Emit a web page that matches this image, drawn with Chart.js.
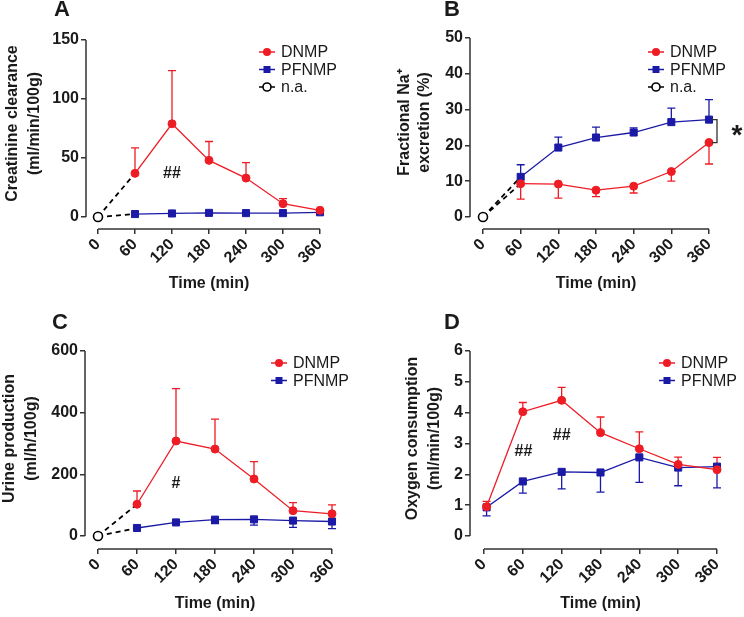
<!DOCTYPE html>
<html>
<head>
<meta charset="utf-8">
<script src="https://cdn.jsdelivr.net/npm/chart.js@4/dist/chart.umd.min.js"></script>
<style>
  html, body { margin: 0; padding: 0; background: #fff; }
  #wrap { position: relative; width: 744px; height: 617px; }
  canvas { position: absolute; }
</style>
</head>
<body>
<div id="wrap">
  <canvas id="chartA" width="372" height="308" style="left:0;top:0"></canvas>
  <canvas id="chartB" width="372" height="308" style="left:372px;top:0"></canvas>
  <canvas id="chartC" width="372" height="309" style="left:0;top:308px"></canvas>
  <canvas id="chartD" width="372" height="309" style="left:372px;top:308px"></canvas>
</div>
<script>
// ---- data ----
const timeTicks = [0, 60, 120, 180, 240, 300, 360];
const times = [60, 120, 180, 240, 300, 360];
const timesO2 = [4, 60, 120, 180, 240, 300, 360];

// A: creatinine clearance
const creatTicks = [0, 50, 100, 150];
const creatDnmp = [37, 79, 48, 33, 11.3, 5.7];
const creatDnmpErr = [21.5, 45, 16, 13, 4.3, 0];
const creatPfnmp = [2.5, 3, 3.5, 3.3, 3.3, 4];
const creatPfnmpErr = [0, 0, 0, 0, 0, 0];

// B: fractional Na+ excretion
const naTicks = [0, 10, 20, 30, 40, 50];
const naDnmp = [9.3, 9.2, 7.5, 8.6, 12.7, 20.8];
const naDnmpErr = [4.3, 3.9, 1.8, 1.9, 2.7, 6.0];
const naPfnmp = [11.2, 19.4, 22.2, 23.6, 26.5, 27.2];
const naPfnmpErr = [3.4, 2.9, 2.9, 1.3, 3.9, 5.6];

// C: urine production
const urineTicks = [0, 200, 400, 600];
const urineDnmp = [103, 308, 282, 185, 82, 72];
const urineDnmpErr = [43, 170, 97, 56, 26, 29];
const urinePfnmp = [26, 44, 53, 54, 50, 47];
const urinePfnmpErr = [0, 0, 13, 19, 22, 23];

// D: oxygen consumption
const o2Ticks = [0, 1, 2, 3, 4, 5, 6];
const o2Dnmp = [0.95, 4.03, 4.4, 3.35, 2.83, 2.32, 2.15];
const o2DnmpErr = [0.17, 0.30, 0.42, 0.51, 0.55, 0.24, 0.40];
const o2Pfnmp = [0.93, 1.77, 2.08, 2.06, 2.55, 2.22, 2.25];
const o2PfnmpErr = [0.28, 0.38, 0.55, 0.64, 0.81, 0.59, 0.69];

// ---- styles ----
const FONT = 'Arial, "Liberation Sans", Helvetica, sans-serif';
const RED = '#ee1c24';
const BLUE = '#1a1aa6';
const INK = '#1a1a1a';
Chart.defaults.font.family = FONT;

function series(label, xs, ys, errs, dir, color, style) {
  return {
    label,
    data: xs.map((x, i) => ({ x, y: ys[i] })),
    errs, errDir: dir,
    borderColor: color, backgroundColor: color,
    borderWidth: 1.3,
    pointStyle: style,
    pointRadius: style === 'rect' ? 5 : 4,
    pointBorderWidth: 1,
    clip: false
  };
}

// dashed "n.a." links from t=0 to the first measured point
function naLinks(targets) {
  const sets = [{
    label: 'n.a.',
    data: [{ x: 0, y: 0 }],
    showLine: false,
    pointRadius: 4.5,
    pointBackgroundColor: '#fff',
    pointBorderColor: '#000',
    pointBorderWidth: 1.6,
    clip: false
  }];
  targets.forEach(v => sets.push({
    label: 'link',
    data: [{ x: 0, y: 0 }, { x: 60, y: v }],
    borderColor: '#000',
    borderWidth: 1.8,
    borderDash: [5, 4],
    pointRadius: 0,
    clip: false
  }));
  return sets;
}

const errorBars = {
  id: 'errorBars',
  beforeDatasetsDraw(chart) {
    const { ctx, scales: { x, y } } = chart;
    chart.data.datasets.forEach(ds => {
      if (!ds.errs) return;
      ctx.save();
      ctx.strokeStyle = ds.borderColor;
      ctx.lineWidth = 1.3;
      ds.data.forEach((p, i) => {
        const e = ds.errs[i];
        if (!e) return;
        const px = x.getPixelForValue(p.x);
        const py = y.getPixelForValue(p.y);
        const dirs = ds.errDir === 'both' ? [1, -1] : (ds.errDir === 'down' ? [-1] : [1]);
        dirs.forEach(d => {
          const ey = y.getPixelForValue(p.y + d * e);
          ctx.beginPath();
          ctx.moveTo(px, py); ctx.lineTo(px, ey);
          ctx.moveTo(px - 4, ey); ctx.lineTo(px + 4, ey);
          ctx.stroke();
        });
      });
      ctx.restore();
    });
  }
};

function chrome(cfg) {
  return {
    id: 'chrome',
    afterDraw(chart) {
      const { ctx, chartArea: area, scales: { x, y } } = chart;
      const yMax = cfg.yTicks[cfg.yTicks.length - 1];
      const y0 = y.getPixelForValue(0), yTop = y.getPixelForValue(yMax);
      const x0 = x.getPixelForValue(0), xEnd = x.getPixelForValue(360);
      ctx.save();
      // offset axes
      ctx.strokeStyle = '#333';
      ctx.lineWidth = 1.5;
      ctx.beginPath();
      ctx.moveTo(area.left, y0); ctx.lineTo(area.left, yTop);
      ctx.moveTo(x0, area.bottom); ctx.lineTo(xEnd, area.bottom);
      ctx.stroke();

      ctx.fillStyle = INK;
      ctx.textAlign = 'center';
      ctx.textBaseline = 'middle';
      // y title
      ctx.font = 'bold 16px ' + FONT;
      const midY = (y0 + yTop) / 2 - 5;
      cfg.yTitle.forEach((line, i) => {
        ctx.save();
        ctx.translate(cfg.yTitleX[i], midY);
        ctx.rotate(-Math.PI / 2);
        ctx.fillText(line, 0, 0);
        ctx.restore();
      });
      // x title
      ctx.fillText('Time (min)', (x0 + xEnd) / 2, area.bottom + 55);
      // panel letter
      ctx.font = 'bold 22px ' + FONT;
      ctx.fillText(cfg.letter, cfg.letterPos[0], cfg.letterPos[1]);

      // legend
      ctx.font = '16px ' + FONT;
      ctx.textAlign = 'left';
      cfg.legend.forEach((item, i) => {
        const ly = cfg.legendPos[1] + i * 17.5;
        const lx = cfg.legendPos[0];
        ctx.strokeStyle = item.color;
        ctx.lineWidth = 1.5;
        ctx.beginPath(); ctx.moveTo(lx - 8, ly); ctx.lineTo(lx + 8, ly); ctx.stroke();
        if (item.style === 'rect') {
          ctx.fillStyle = item.color;
          ctx.fillRect(lx - 3.5, ly - 3.5, 7, 7);
        } else if (item.style === 'open') {
          ctx.fillStyle = '#fff';
          ctx.lineWidth = 1.6;
          ctx.beginPath(); ctx.arc(lx, ly, 4, 0, Math.PI * 2); ctx.fill(); ctx.stroke();
        } else {
          ctx.fillStyle = item.color;
          ctx.beginPath(); ctx.arc(lx, ly, 4, 0, Math.PI * 2); ctx.fill();
        }
        ctx.fillStyle = INK;
        ctx.fillText(item.label, lx + 14, ly + 1);
      });

      // significance marks
      ctx.font = 'bold 16px ' + FONT;
      ctx.textAlign = 'center';
      (cfg.marks || []).forEach(m => {
        ctx.fillText(m.text, x.getPixelForValue(m.x), y.getPixelForValue(m.y));
      });
      if (cfg.bracket) {
        const b = cfg.bracket;
        const bx = x.getPixelForValue(360) + 8;
        const t = y.getPixelForValue(b.top), btm = y.getPixelForValue(b.bottom);
        ctx.strokeStyle = '#333';
        ctx.lineWidth = 1.3;
        ctx.beginPath();
        ctx.moveTo(bx - 5, t); ctx.lineTo(bx, t); ctx.lineTo(bx, btm); ctx.lineTo(bx - 5, btm);
        ctx.stroke();
        ctx.font = 'bold 28px ' + FONT;
        ctx.fillText('*', bx + 20, (t + btm) / 2 + 5);
      }
      ctx.restore();
    }
  };
}

function panel(cfg) {
  const a = cfg.area, W = cfg.width, H = cfg.height;
  const yMax = cfg.yTicks[cfg.yTicks.length - 1];
  const xMin = -cfg.gapX * 360 / (a.right - a.left - cfg.gapX);
  const yMin = -cfg.gapY * yMax / (a.bottom - a.top - cfg.gapY);
  const xH = 60;
  const tickGrid = { drawOnChartArea: false, drawTicks: true, tickLength: 5, color: '#333', lineWidth: 1.5 };
  const tickFont = { family: FONT, size: 16, weight: 'bold' };
  return new Chart(document.getElementById(cfg.id), {
    type: 'line',
    data: { datasets: cfg.datasets },
    options: {
      responsive: false,
      animation: false,
      layout: {
        autoPadding: false,
        padding: { left: 0, top: a.top, right: W - a.right, bottom: H - a.bottom - xH }
      },
      plugins: { legend: { display: false }, tooltip: { enabled: false } },
      scales: {
        x: {
          type: 'linear', min: xMin, max: 360,
          afterBuildTicks: s => { s.ticks = timeTicks.map(v => ({ value: v })); },
          afterFit: s => { s.height = xH; },
          ticks: { autoSkip: false, minRotation: 45, maxRotation: 45, font: tickFont, color: INK, padding: 1 },
          grid: tickGrid,
          border: { display: false }
        },
        y: {
          type: 'linear', min: yMin, max: yMax,
          afterBuildTicks: s => { s.ticks = cfg.yTicks.map(v => ({ value: v })); },
          afterFit: s => { s.width = a.left; },
          ticks: { font: tickFont, color: INK, padding: 2 },
          grid: tickGrid,
          border: { display: false }
        }
      }
    },
    plugins: [errorBars, chrome(cfg)]
  });
}

const legend3 = [
  { label: 'DNMP', color: RED, style: 'circle' },
  { label: 'PFNMP', color: BLUE, style: 'rect' },
  { label: 'n.a.', color: '#000', style: 'open' }
];
const legend2 = legend3.slice(0, 2);

panel({
  id: 'chartA', width: 372, height: 308,
  area: { left: 86, top: 40, right: 320, bottom: 229 }, gapX: 12, gapY: 12,
  yTicks: creatTicks,
  yTitle: ['Creatinine clearance', '(ml/min/100g)'], yTitleX: [13, 35],
  letter: 'A', letterPos: [62, 10],
  legend: legend3, legendPos: [267, 52],
  marks: [{ text: '##', x: 120, y: 37 }],
  datasets: [
    series('DNMP', times, creatDnmp, creatDnmpErr, 'up', RED, 'circle'),
    series('PFNMP', times, creatPfnmp, creatPfnmpErr, 'up', BLUE, 'rect'),
    ...naLinks([creatDnmp[0], creatPfnmp[0]])
  ]
});

panel({
  id: 'chartB', width: 372, height: 308,
  area: { left: 98, top: 38, right: 337, bottom: 229 }, gapX: 13, gapY: 12,
  yTicks: naTicks,
  yTitle: ['Fractional Na\u207A', 'excretion (%)'], yTitleX: [33, 53],
  letter: 'B', letterPos: [80, 10],
  legend: legend3, legendPos: [284, 52],
  bracket: { top: naPfnmp[5], bottom: naDnmp[5] },
  datasets: [
    series('DNMP', times, naDnmp, naDnmpErr, 'down', RED, 'circle'),
    series('PFNMP', times, naPfnmp, naPfnmpErr, 'up', BLUE, 'rect'),
    ...naLinks([naDnmp[0], naPfnmp[0]])
  ]
});

panel({
  id: 'chartC', width: 372, height: 309,
  area: { left: 85, top: 43, right: 332, bottom: 241 }, gapX: 13, gapY: 13,
  yTicks: urineTicks,
  yTitle: ['Urine production', '(ml/h/100g)'], yTitleX: [10, 32],
  letter: 'C', letterPos: [60, 15],
  legend: legend2, legendPos: [279, 55],
  marks: [{ text: '#', x: 120, y: 170 }],
  datasets: [
    series('DNMP', times, urineDnmp, urineDnmpErr, 'up', RED, 'circle'),
    series('PFNMP', times, urinePfnmp, urinePfnmpErr, 'down', BLUE, 'rect'),
    ...naLinks([urineDnmp[0], urinePfnmp[0]])
  ]
});

panel({
  id: 'chartD', width: 372, height: 309,
  area: { left: 98, top: 43, right: 345, bottom: 241 }, gapX: 14, gapY: 13,
  yTicks: o2Ticks,
  yTitle: ['Oxygen consumption', '(ml/min/100g)'], yTitleX: [41, 63],
  letter: 'D', letterPos: [80, 15],
  legend: legend2, legendPos: [295, 55],
  marks: [{ text: '##', x: 61, y: 2.73 }, { text: '##', x: 120, y: 3.27 }],
  datasets: [
    series('DNMP', timesO2, o2Dnmp, o2DnmpErr, 'up', RED, 'circle'),
    series('PFNMP', timesO2, o2Pfnmp, o2PfnmpErr, 'down', BLUE, 'rect')
  ]
});
</script>
</body>
</html>
